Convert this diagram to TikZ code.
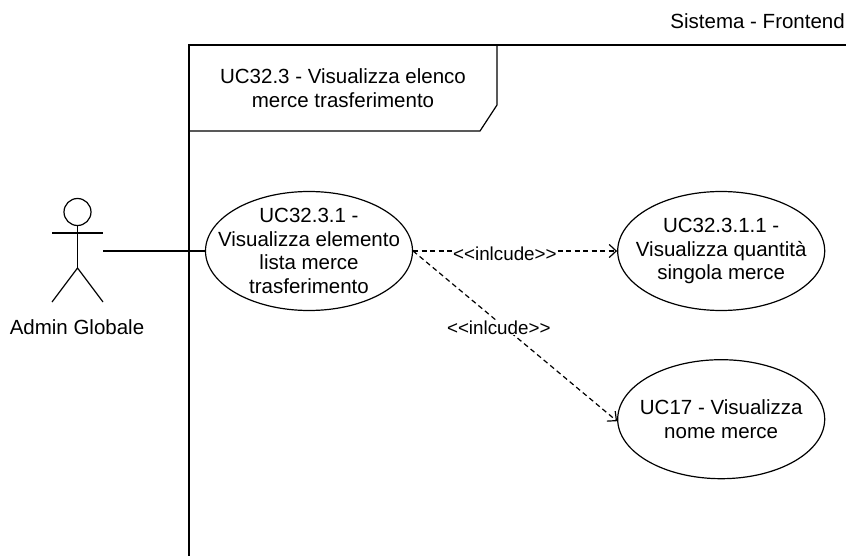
\documentclass[tikz,border=0pt]{standalone}
\usepackage{fontspec}
\setmainfont{Liberation Sans}
\usetikzlibrary{positioning,shapes.geometric,arrows.meta}

\begin{document}
\begin{tikzpicture}[x=1pt,y=-1pt,
    usecase/.style={ellipse, draw=black, line width=1.2pt, fill=white, minimum width=207pt, minimum height=119pt, inner sep=-40pt, align=center, font=\fontsize{20.5}{23.5}\selectfont},
    titlenode/.style={align=center, inner sep=0pt, font=\fontsize{20.5}{23.5}\selectfont},
    includelabel/.style={fill=white, inner sep=0.5pt, font=\fontsize{18.8}{20}\selectfont},
    include/.style={-{Straight Barb[length=7pt,width=13pt]}, line width=1.2pt, dash pattern=on 5pt off 3.5pt},
    stroke/.style={line width=1.2pt, draw=black},]
    \useasboundingbox (0,0) rectangle (846,556);
    %Frame
    \coordinate (framebottom) at (189,556);
    \coordinate (frametop) at (189,45);
    \coordinate (frameright) at (846,45);
    \draw[stroke] (framebottom) -- (frametop) -- (frameright);
    \draw[stroke] (497,45) -- (497,105) -- (480,131) -- (189,131);
    \node[titlenode] (frametitle) at (343,88) {UC32.3 - Visualizza elenco\\merce trasferimento};
    \node[titlenode, anchor=east] (system) at (845,21) {Sistema - Frontend};

    %Nodes
    \node[usecase] (element) at (309,251) {UC32.3.1 -\\Visualizza elemento\\lista merce\\trasferimento};
    \node[usecase] (quantity) [right=204pt of element] {UC32.3.1.1 -\\Visualizza quantità\\singola merce};
    \node[usecase] (name) [below=48pt of quantity] {UC17 - Visualizza\\nome merce};

    %Actor
    \node[circle, stroke, minimum size=27pt, inner sep=0pt] (head) at (77.5,212) {};
    \coordinate (hip) at (77.5,268);
    \coordinate (handleft) at (52,233);
    \coordinate (handright) at (103,233);
    \coordinate (footleft) at (52,302);
    \coordinate (footright) at (103,302);
    \coordinate (actorport) at (103,251);
    \node[titlenode] (actor) at (77,327) {Admin Globale};
    \draw[stroke] (head.south) -- (hip);
    \draw[stroke] (handleft) -- (handright);
    \draw[stroke] (footleft) -- (hip) -- (footright);

    %Lines
    \draw[stroke] (actorport) -- (element.west);
    \draw[include] (element.east) -- (quantity.west) node[includelabel, pos=0.45, yshift=-3pt] (labelone) {<{}<{}inlcude>{}>};
    \draw[include] (element.east) -- ([yshift=-2pt]name.west) node[includelabel, pos=0.42, yshift=-5pt] (labeltwo) {<{}<{}inlcude>{}>};
  \end{tikzpicture}
\end{document}
